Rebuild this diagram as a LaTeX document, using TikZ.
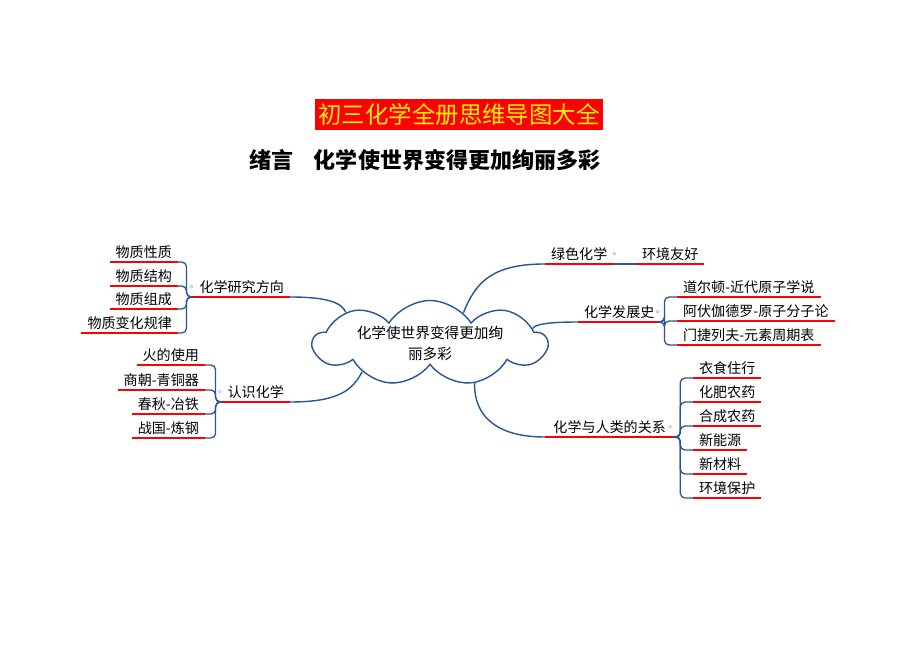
\documentclass[tikz,border=0pt]{standalone}
\usepackage{fontspec}
\setmainfont{Noto Sans CJK SC}
\usetikzlibrary{shapes.symbols}
\definecolor{mapblue}{RGB}{40,85,150}

\begin{document}
\begin{tikzpicture}
[x=0.03cm,y=-0.03cm,
 item/.style={inner xsep=5pt,inner ysep=3pt,font=\fontsize{12}{13}\selectfont},
 uline/.style={red,line width=1.2pt},
 link/.style={mapblue,line width=1.2pt},
 brace/.style={mapblue,line width=1.1pt,rounded corners=4pt},
 knob/.style={gray!60,line width=0.4pt}]
\useasboundingbox (0,0) rectangle (920,651);
\node[fill=red,text=yellow,minimum width=8.64cm,minimum height=0.93cm,inner sep=0pt,
  font=\fontsize{20}{22}\selectfont] (title) at (459,115) {初三化学全册思维导图大全};
\node[anchor=west,inner sep=0pt,font=\bfseries\fontsize{18.8}{20}\selectfont] (sub)
  at (249,160) {绪言\hspace{0.62cm}化学使世界变得更加绚丽多彩};
\node[cloud,draw=mapblue,line width=1.2pt,cloud puffs=9,cloud puff arc=115,cloud ignores aspect,
  minimum width=7.0cm,minimum height=2.55cm,inner sep=0pt,align=center,
  font=\fontsize{12.5}{18}\selectfont] (c) at (430,343) {化学使世界变得更加绚\\丽多彩};
\node[item,anchor=south east] (yj) at (290,297) {化学研究方向};
  \node[item,anchor=south east] (yj1) at (178,262) {物质性质};
  \node[item,anchor=south east] (yj2) at (178,286) {物质结构};
  \node[item,anchor=south east] (yj3) at (178,309) {物质组成};
  \node[item,anchor=south east] (yj4) at (178,333) {物质变化规律};
\node[item,anchor=south east] (rs) at (290,402) {认识化学};
  \node[item,anchor=south east] (rs1) at (205,365) {火的使用};
  \node[item,anchor=south east] (rs2) at (205,390) {商朝-青铜器};
  \node[item,anchor=south east] (rs3) at (205,414) {春秋-冶铁};
  \node[item,anchor=south east] (rs4) at (205,438) {战国-炼钢};
\node[item,anchor=south west] (ls) at (545,264) {绿色化学};
  \node[item,anchor=south west] (ls1) at (636,264) {环境友好};
\node[item,anchor=south west] (fz) at (578,322) {化学发展史};
  \node[item,anchor=south west] (fz1) at (677,297) {道尔顿-近代原子学说};
  \node[item,anchor=south west] (fz2) at (677,321) {阿伏伽德罗-原子分子论};
  \node[item,anchor=south west] (fz3) at (677,345) {门捷列夫-元素周期表};
\node[item,anchor=south west,inner xsep=7pt] (rl) at (545,437) {化学与人类的关系};
  \node[item,anchor=south west] (rl1) at (693,378) {衣食住行};
  \node[item,anchor=south west] (rl2) at (693,402) {化肥农药};
  \node[item,anchor=south west] (rl3) at (693,426) {合成农药};
  \node[item,anchor=south west] (rl4) at (693,450) {新能源};
  \node[item,anchor=south west] (rl5) at (693,474) {新材料};
  \node[item,anchor=south west] (rl6) at (693,498) {环境保护};
\foreach \n in {yj,yj1,yj2,yj3,yj4,rs,rs1,rs2,rs3,rs4,ls,ls1,fz,fz1,fz2,fz3,rl,rl1,rl2,rl3,rl4,rl5,rl6}
  \draw[uline] (\n.south west) -- (\n.south east);
\draw[link] (yj.south east) .. controls (325,297) and (342,302) .. (c.160);
\draw[link] (rs.south east) .. controls (335,402) and (352,392) .. (c.203);
\draw[link] (ls.south west) .. controls (495,264) and (476,280) .. (c.42);
\draw[link] (fz.south west) .. controls (550,322) and (535,324) .. (c.8);
\draw[link] (rl.south west) .. controls (495,437) and (474,415) .. (c.318);
\draw[link] (ls.south east) -- (ls1.south west);
\foreach \n in {yj1,yj2,yj3,yj4}
  \draw[brace] (yj.south west) -- ++(-7,0) |- (\n.south east);
\foreach \n in {rs1,rs2,rs3,rs4}
  \draw[brace] (rs.south west) -- ++(-6,0) |- (\n.south east);
\foreach \n in {fz1,fz2,fz3}
  \draw[brace] (fz.south east) -- ++(4,0) |- (\n.south west);
\foreach \n in {rl1,rl2,rl3,rl4,rl5,rl6}
  \draw[brace] (rl.south east) -- ++(6,0) |- (\n.south west);
\draw[knob] (yj.west) ++(-2,0) circle (1.5);
\draw[knob] (rs.west) ++(-2,0) circle (1.5);
\draw[knob] (ls.east) ++(1,0) circle (1.5);
\draw[knob] (fz.east) ++(-3,0) circle (1.5);
\draw[knob] (rl.east) ++(-4,0) circle (1.5);
\end{tikzpicture}
\end{document}
